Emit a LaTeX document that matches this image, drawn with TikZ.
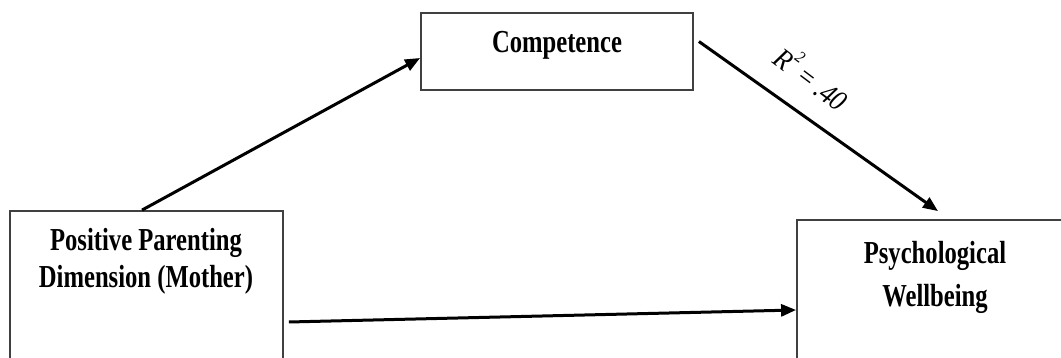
\documentclass[tikz,border=0pt]{standalone}
\usepackage{fontspec}
\setmainfont{Liberation Serif}[FakeStretch=0.77]
\newfontfamily\lblfont{Liberation Serif}[FakeStretch=0.9]
\usetikzlibrary{arrows.meta,calc}
\begin{document}
\begin{tikzpicture}[x=1pt,y=1pt,
  box/.style={draw=black!75,line width=1.8pt,fill=white,inner sep=0pt},
  lbl/.style={font=\bfseries\fontsize{32}{37}\selectfont,align=center,inner sep=0pt},
  arr/.style={line width=3pt,-{Triangle[length=15pt,width=12pt]}}]
\useasboundingbox (0,0) rectangle (1061,358);
\clip (0,0) rectangle (1061,358);
\fill[white] (0,0) rectangle (1061,358);
% boxes
\node[box,minimum width=273pt,minimum height=159pt] (ppd) at (146.5,67.5) {};
\node[box,minimum width=272pt,minimum height=77pt] (comp) at (557,306.5) {};
\node[box,minimum width=278pt,minimum height=150pt] (wb) at (936,63) {};
% texts
\node[lbl] (ppdt) at (146,97) {Positive Parenting\\Dimension (Mother)};
\node[lbl] (compt) at (557,313) {Competence};
\node[lbl,font=\bfseries\fontsize{32}{43}\selectfont] (wbt) at (935,81) {Psychological\\Wellbeing};
% arrows
\draw[arr] ([xshift=-4.5pt]ppd.north) -- ([yshift=-6.5pt]comp.west);
\draw[arr] ([xshift=5pt,yshift=10pt]comp.east) -- ([xshift=2pt,yshift=8pt]wb.north);
\draw[arr] ([xshift=5pt,yshift=-31.5pt]ppd.east) -- ([yshift=-15pt]wb.west);
% label
\node[font=\lblfont\itshape\fontsize{29}{32}\selectfont,rotate=-37,inner sep=0pt] (r2) at (813,281) {R\raisebox{0.55em}{\fontsize{17}{17}\selectfont 2}\,=\,.40};
\end{tikzpicture}
\end{document}
